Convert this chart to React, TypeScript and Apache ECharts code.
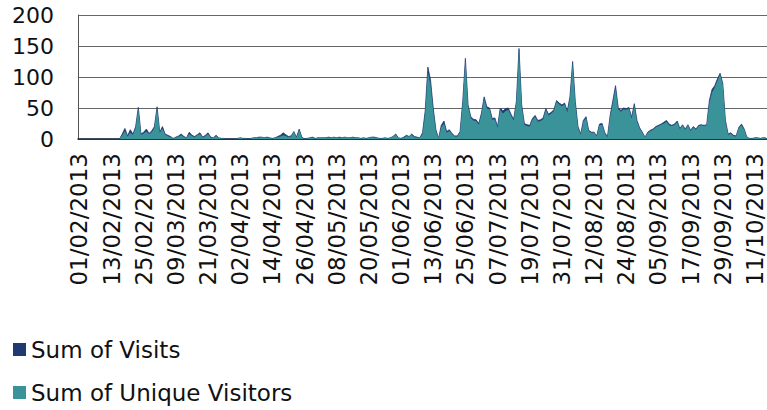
import React, { useEffect, useRef } from "react";
import * as echarts from "echarts";

const startDay = { year: 2013, month: 1, day: 1 }; // 01/02/2013 (month 0-based)
const dayCount = 257;

const visits: number[] = [
  0, 0, 0, 0, 0, 0, 0, 0, 0, 0,
  0, 0, 0, 0, 0, 0, 8, 17, 5, 15,
  8, 20, 51, 8, 11, 16, 9, 13, 20, 52,
  11, 20, 8, 6, 4, 1, 3, 5, 8, 4,
  2, 11, 6, 4, 7, 10, 3, 6, 10, 3,
  2, 6, 2, 1, 1, 0, 0, 0, 0, 1,
  2, 1, 1, 0, 1, 2, 2, 3, 3, 2,
  3, 2, 1, 2, 4, 6, 10, 7, 4, 5,
  12, 3, 16, 3, 0, 1, 2, 3, 1, 2,
  2, 2, 2, 3, 2, 3, 2, 3, 2, 3,
  2, 2, 3, 2, 2, 1, 2, 1, 2, 3,
  3, 2, 1, 1, 2, 1, 2, 4, 8, 2,
  1, 3, 6, 4, 8, 4, 3, 2, 10, 45,
  116, 95, 50, 15, 1, 22, 29, 12, 15, 9,
  5, 5, 12, 60, 130, 55, 36, 32, 31, 25,
  42, 68, 52, 50, 33, 34, 20, 50, 45, 49,
  50, 40, 32, 60, 146, 55, 25, 23, 22, 33,
  38, 30, 31, 34, 49, 40, 43, 47, 62, 58,
  55, 58, 45, 68, 125, 60, 20, 8, 30, 36,
  14, 11, 11, 5, 24, 25, 10, 4, 38, 62,
  86, 51, 46, 50, 49, 51, 35, 57, 30, 18,
  11, 3, 11, 14, 16, 20, 22, 24, 27, 30,
  24, 22, 24, 29, 17, 23, 16, 23, 14, 20,
  16, 22, 23, 22, 23, 62, 80, 86, 97, 106,
  90, 30, 8, 10, 6, 5, 19, 24, 16, 3,
  1, 1, 2, 2, 1, 2, 2,
];

const uniqueVisitors: number[] = [
  0, 0, 0, 0, 0, 0, 0, 0, 0, 0,
  0, 0, 0, 0, 0, 0, 6, 13, 4, 10,
  7, 18, 49, 7, 9, 12, 8, 11, 18, 50,
  10, 17, 7, 5, 3, 1, 2, 4, 6, 3,
  2, 8, 5, 3, 6, 8, 2, 5, 8, 2,
  2, 5, 2, 1, 1, 0, 0, 0, 0, 1,
  2, 1, 1, 0, 1, 2, 2, 2, 3, 2,
  2, 2, 1, 2, 3, 4, 6, 5, 3, 4,
  12, 2, 15, 2, 0, 1, 2, 2, 1, 2,
  2, 2, 2, 2, 2, 3, 2, 2, 2, 3,
  2, 2, 2, 2, 2, 1, 2, 1, 2, 3,
  2, 2, 1, 1, 2, 1, 2, 4, 7, 2,
  1, 2, 5, 4, 7, 3, 2, 2, 8, 40,
  108, 88, 45, 13, 1, 19, 25, 10, 13, 8,
  4, 4, 11, 57, 127, 52, 34, 30, 29, 23,
  40, 65, 49, 48, 31, 32, 18, 47, 41, 45,
  47, 38, 30, 58, 143, 52, 23, 21, 20, 31,
  36, 28, 29, 32, 47, 38, 41, 45, 60, 56,
  53, 56, 43, 65, 122, 57, 18, 7, 28, 34,
  13, 10, 10, 4, 22, 23, 9, 3, 35, 58,
  82, 48, 44, 48, 47, 49, 33, 54, 28, 17,
  10, 3, 10, 13, 15, 19, 21, 23, 25, 28,
  22, 21, 23, 27, 16, 22, 15, 22, 13, 19,
  15, 21, 22, 21, 22, 58, 75, 83, 94, 104,
  88, 28, 7, 9, 5, 4, 18, 22, 15, 3,
  1, 1, 2, 2, 1, 2, 2,
];

const yTicks = { min: 0, max: 200, interval: 50 };
const seriesNames = ["Sum of Visits", "Sum of Unique Visitors"];

function buildDates(): string[] {
  const out: string[] = [];
  for (let i = 0; i < dayCount; i++) {
    const d = new Date(Date.UTC(startDay.year, startDay.month, startDay.day + i));
    const dd = String(d.getUTCDate()).padStart(2, "0");
    const mm = String(d.getUTCMonth() + 1).padStart(2, "0");
    out.push(`${dd}/${mm}/${d.getUTCFullYear()}`);
  }
  return out;
}

const categories = buildDates();

const NAVY = "#1F3A73";
const TEAL = "#3A9399";
const FONT = "DejaVu Sans";

const legendBase = {
  orient: "horizontal",
  left: 13,
  padding: 0,
  itemWidth: 13,
  itemHeight: 13,
  icon: "rect",
  textStyle: { fontSize: 23, color: "#111", fontFamily: FONT },
};

export default function App() {
  const ref = useRef<HTMLDivElement>(null);
  useEffect(() => {
    if (!ref.current) return;
    const chart = echarts.init(ref.current, null, { renderer: "svg" });
    chart.setOption({
      animation: false,
      textStyle: { fontFamily: FONT },
      grid: {
        left: 78,
        right: 0,
        top: 15,
        bottom: 271,
        containLabel: false,
        outerBoundsMode: "none",
      },
      legend: [
        { ...legendBase, top: 338, data: [seriesNames[0]] },
        { ...legendBase, top: 381, data: [seriesNames[1]] },
      ],
      xAxis: {
        type: "category",
        data: categories,
        boundaryGap: true,
        axisLine: { show: true, lineStyle: { color: "#222", width: 1.5 } },
        axisTick: { show: false },
        axisLabel: {
          interval: 11,
          rotate: 90,
          margin: 14,
          fontSize: 23,
          color: "#111",
          fontFamily: FONT,
        },
        splitLine: { show: false },
      },
      yAxis: {
        type: "value",
        min: yTicks.min,
        max: yTicks.max,
        interval: yTicks.interval,
        axisLine: { show: true, lineStyle: { color: "#555", width: 1 } },
        axisTick: { show: false },
        axisLabel: { fontSize: 22, color: "#111", margin: 24, fontFamily: FONT },
        splitLine: { show: true, lineStyle: { color: "#666", width: 1 } },
      },
      series: [
        {
          name: seriesNames[0],
          type: "line",
          data: visits,
          showSymbol: false,
          symbol: "none",
          lineStyle: { width: 0.8, color: NAVY },
          itemStyle: { color: NAVY },
          areaStyle: { color: NAVY, opacity: 1 },
          z: 2,
        },
        {
          name: seriesNames[1],
          type: "line",
          data: uniqueVisitors,
          showSymbol: false,
          symbol: "none",
          lineStyle: { width: 0, color: TEAL },
          itemStyle: { color: TEAL },
          areaStyle: { color: TEAL, opacity: 1 },
          z: 3,
        },
      ],
    });
    return () => chart.dispose();
  }, []);
  return (
    <div
      ref={ref}
      style={{ position: "absolute", left: 0, top: 0, width: 767, height: 410 }}
    />
  );
}
